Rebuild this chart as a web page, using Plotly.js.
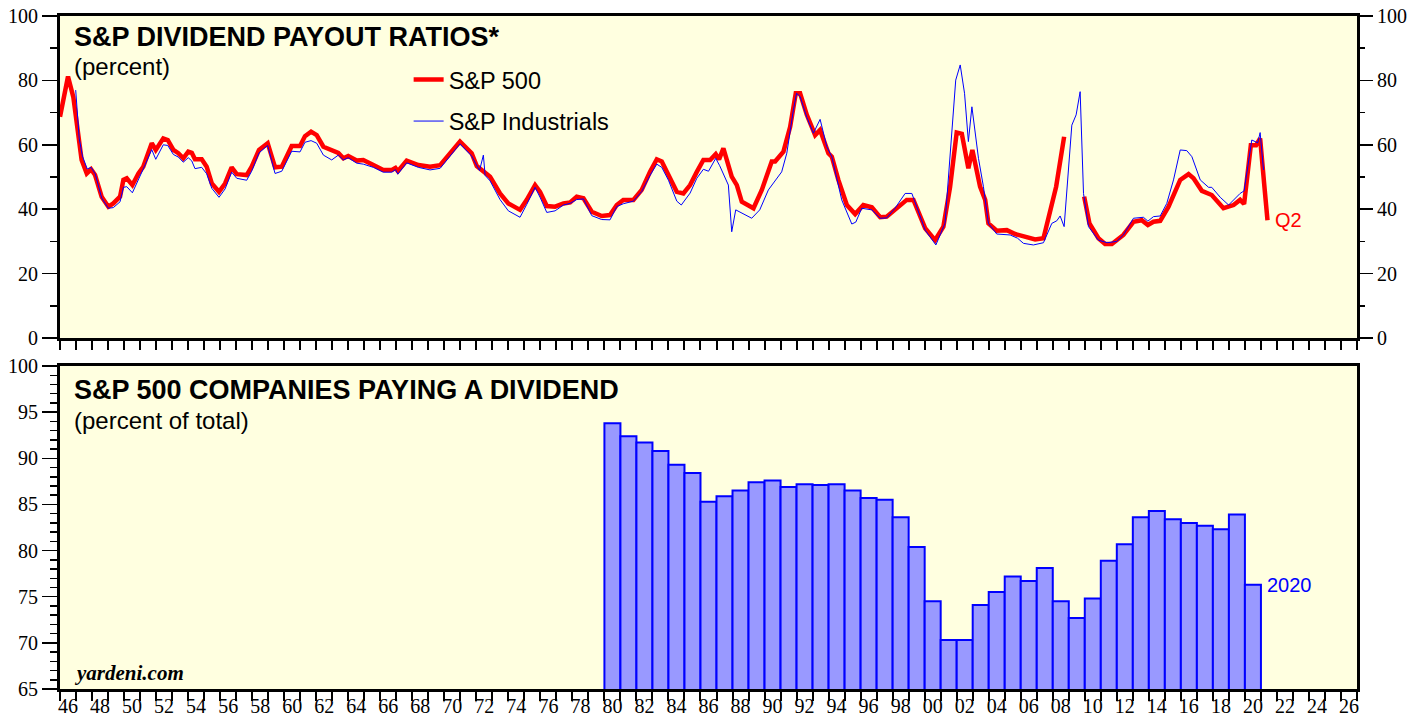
<!DOCTYPE html>
<html><head><meta charset="utf-8">
<script src="https://cdn.plot.ly/plotly-3.0.1.min.js"></script>
<style>html,body{margin:0;padding:0;background:#fff}#chart{width:1426px;height:719px}</style>
</head><body><div id="chart"></div><script>
// ---- Data ----
const sp500Years = [1946.0,1946.5,1946.83,1947.14,1947.35,1947.67,1947.94,1948.19,1948.6,1949.02,1949.33,1949.75,1949.96,1950.17,1950.52,1950.9,1951.2,1951.73,1951.98,1952.45,1952.73,1953.08,1953.39,1953.7,1954.01,1954.23,1954.43,1954.85,1955.16,1955.48,1955.93,1956.31,1956.72,1957.04,1957.66,1957.97,1958.43,1958.97,1959.43,1959.85,1960.47,1960.99,1961.3,1961.68,1962.03,1962.45,1962.97,1963.38,1963.7,1964.0,1964.53,1964.94,1965.57,1966.19,1966.72,1966.95,1967.1,1967.65,1968.38,1969.11,1969.74,1970.36,1970.98,1971.71,1972.03,1972.86,1973.48,1974.0,1974.73,1975.15,1975.67,1975.98,1976.4,1976.92,1977.44,1977.86,1978.27,1978.69,1979.21,1979.83,1980.35,1980.77,1981.18,1981.81,1982.33,1982.85,1983.27,1983.58,1984.0,1984.52,1984.93,1985.35,1985.77,1986.18,1986.6,1986.95,1987.16,1987.43,1987.95,1988.27,1988.58,1989.31,1989.83,1990.45,1990.66,1991.18,1991.6,1991.95,1992.22,1992.64,1993.16,1993.47,1993.99,1994.2,1994.61,1995.14,1995.66,1996.17,1996.7,1997.22,1997.63,1998.15,1998.88,1999.3,2000.03,2000.65,2001.17,2001.59,2002.0,2002.32,2002.73,2002.98,2003.46,2003.78,2003.98,2004.5,2005.13,2005.65,2006.17,2006.9,2007.42,2007.94,2008.21,2008.71,2009.3,2009.96,2010.29,2010.85,2011.27,2011.69,2012.0,2012.41,2013.04,2013.56,2013.94,2014.29,2014.71,2015.23,2015.96,2016.48,2016.79,2017.31,2017.93,2018.66,2019.29,2019.7,2019.95,2020.37,2020.7,2020.95,2021.2,2021.41];
const sp500Payout = [68.7,81.2,74.9,62.5,55.3,51.1,52.4,50.6,43.9,40.8,41.8,43.9,49.1,49.6,47.5,51.1,53.2,60.5,58.4,62.0,61.5,58.4,57.4,55.8,57.9,57.5,55.5,55.5,53.2,48.0,45.4,48.0,53.0,50.9,50.6,53.2,58.4,60.5,53.0,53.2,59.6,59.6,62.7,64.1,63.0,59.4,58.2,57.5,55.8,56.5,55.1,55.3,53.7,52.2,52.2,52.8,51.8,55.1,53.7,53.2,53.7,57.4,61.0,57.4,53.4,50.1,44.9,41.8,39.8,42.9,47.5,45.4,41.0,40.8,41.8,42.1,43.9,43.4,39.2,37.9,38.2,41.3,42.9,42.9,46.0,51.6,55.5,54.8,50.6,45.4,44.9,47.5,51.6,55.3,55.3,57.1,55.5,58.9,50.1,47.5,42.3,40.3,46.0,54.8,54.8,57.9,65.6,76.0,76.0,69.3,63.0,64.6,57.4,56.3,49.1,41.3,38.5,41.3,40.6,37.5,37.7,39.8,42.9,42.9,34.1,30.4,34.6,47.0,63.8,63.4,52.7,58.4,47.0,42.9,35.6,33.3,33.5,32.3,31.7,30.6,31.0,41.8,47.0,62.5,null,43.9,35.6,31.0,29.2,29.2,30.4,32.0,36.1,36.6,35.1,36.1,36.4,40.8,49.1,50.9,49.6,45.7,44.4,40.3,41.3,42.9,41.6,59.9,59.9,62.0,48.0,36.6];

const indYears = [1946.98,1947.2,1947.4,1947.7,1947.94,1948.2,1948.6,1949.02,1949.33,1949.75,1949.96,1950.17,1950.52,1950.9,1951.2,1951.73,1951.98,1952.45,1952.73,1953.08,1953.39,1953.7,1954.01,1954.23,1954.43,1954.85,1955.16,1955.48,1955.93,1956.31,1956.72,1957.04,1957.66,1957.97,1958.43,1958.97,1959.43,1959.85,1960.47,1960.99,1961.3,1961.68,1962.03,1962.45,1962.97,1963.38,1963.7,1964.0,1964.53,1964.94,1965.57,1966.19,1966.72,1966.95,1967.1,1967.65,1968.38,1969.11,1969.74,1970.36,1970.98,1971.71,1972.2,1972.44,1972.55,1972.86,1973.48,1974.0,1974.73,1975.15,1975.67,1976.0,1976.4,1976.92,1977.44,1977.86,1978.27,1978.69,1979.21,1979.83,1980.35,1980.77,1981.18,1981.81,1982.33,1982.85,1983.27,1983.58,1984.0,1984.52,1984.8,1985.35,1985.77,1986.18,1986.5,1986.95,1987.2,1987.74,1987.95,1988.2,1989.2,1989.7,1990.24,1991.07,1991.39,1991.8,1992.0,1992.22,1992.64,1993.05,1993.47,1993.89,1994.2,1994.82,1995.45,1995.7,1996.07,1996.7,1997.22,1997.63,1998.15,1998.78,1999.2,2000.03,2000.7,2001.27,2001.7,2001.94,2002.22,2002.49,2002.73,2002.95,2003.36,2003.67,2003.98,2004.5,2005.34,2005.8,2006.17,2006.79,2007.42,2007.94,2008.25,2008.46,2008.71,2009.19,2009.46,2009.71,2009.92,2010.23,2010.85,2011.4,2012.0,2012.41,2013.04,2013.66,2013.94,2014.29,2014.71,2015.12,2015.54,2015.96,2016.37,2016.69,2017.21,2017.73,2017.93,2018.46,2018.98,2019.7,2019.95,2020.43,2020.8,2020.95,2021.16];
const indPayout = [77.0,62.0,56.5,52.5,53.0,51.0,43.5,40.3,40.5,42.3,46.8,47.0,45.1,49.5,52.5,58.5,55.5,60.0,59.8,57.0,56.2,54.6,56.0,55.0,52.6,53.0,51.0,46.5,43.7,46.3,51.5,49.6,49.0,51.8,57.5,59.8,51.1,51.8,58.0,57.8,60.8,61.3,60.5,56.8,55.3,56.8,55.3,56.0,54.3,54.0,53.0,51.5,51.5,52.3,50.9,54.4,53.0,52.2,52.7,56.5,60.3,56.5,52.0,56.8,50.5,48.8,43.0,39.5,37.5,41.5,46.8,43.5,39.0,39.5,41.3,41.8,43.0,43.2,38.0,36.8,36.7,40.8,41.7,42.5,45.5,50.5,54.0,53.0,49.0,42.5,41.3,45.0,49.6,52.4,51.8,55.8,53.5,47.5,33.0,39.8,37.2,39.8,46.0,51.6,57.4,70.8,76.0,75.0,68.5,63.6,67.9,59.4,56.3,42.9,35.4,36.0,40.3,39.8,37.2,37.3,40.3,44.9,44.9,33.5,28.9,35.6,63.6,80.1,84.8,76.0,61.0,71.8,55.8,47.0,35.6,32.3,32.0,31.0,29.4,28.9,29.6,35.6,36.4,37.9,34.6,66.1,69.3,76.5,44.9,34.6,30.4,29.6,30.0,32.0,37.2,37.5,36.3,37.7,37.9,41.8,49.1,58.4,58.2,56.3,49.1,46.8,46.8,43.7,41.3,44.9,45.7,61.5,60.6,63.8,52.2];

const barYears = [1980,1981,1982,1983,1984,1985,1986,1987,1988,1989,1990,1991,1992,1993,1994,1995,1996,1997,1998,1999,2000,2001,2002,2003,2004,2005,2006,2007,2008,2009,2010,2011,2012,2013,2014,2015,2016,2017,2018,2019,2020];
const pctPaying = [93.8,92.4,91.7,90.8,89.3,88.4,85.3,85.9,86.5,87.4,87.6,86.9,87.2,87.1,87.2,86.5,85.7,85.5,83.6,80.4,74.5,70.3,70.3,74.1,75.5,77.2,76.7,78.1,74.5,72.7,74.8,78.9,80.7,83.6,84.3,83.4,83.0,82.7,82.3,83.9,76.3];

const yearTicks = [];
for (let y = 1946; y <= 2027; y++) yearTicks.push(y);
const labelYears = [];
for (let y = 1946; y <= 2026; y += 2) labelYears.push(y);
const labelText = labelYears.map(y => String(y % 100).padStart(2, '0'));
const topTicks = [0,20,40,60,80,100];
const botTicks = [65,70,75,80,85,90,95,100];

// ---- Styles ----
const serif = 'Liberation Serif, Times New Roman, serif';
const sans = 'Liberation Sans, Arial, sans-serif';
const bg = '#FFFFE0';

const xCommon = {
  range: [1946, 2027], showgrid: false, zeroline: false,
  showline: true, linewidth: 3, linecolor: '#000', mirror: true,
  tickmode: 'array', tickvals: labelYears.map(y => y + 0.5), ticktext: labelText,
  ticks: '', ticklabelstandoff: -3,
  minor: {tickmode: 'array', tickvals: yearTicks, ticks: 'outside', ticklen: 9, tickwidth: 2, tickcolor: '#000'},
  tickfont: {family: serif, size: 20, color: '#000'}
};
function yAxis(domain, range, ticks, minorD, side, overlay, anchor) {
  const a = {
    domain: domain, range: range, showgrid: false, zeroline: false,
    tickmode: 'array', tickvals: ticks, ticks: 'outside', ticklen: 15, tickwidth: 1.5, tickcolor: '#000',
    minor: {dtick: minorD, ticks: 'outside', ticklen: 7, tickwidth: 1.5, tickcolor: '#000'},
    tickfont: {family: serif, size: 20, color: '#000'}, side: side, anchor: anchor
  };
  if (overlay) { a.overlaying = overlay; a.showline = false; }
  else { a.showline = true; a.linewidth = 3; a.linecolor = '#000'; a.mirror = true; }
  return a;
}

const traces = [
  {x: sp500Years, y: sp500Payout, type: 'scatter', mode: 'lines', name: 'S&amp;P 500',
   line: {color: '#FF0000', width: 4.5}, connectgaps: false, xaxis: 'x', yaxis: 'y', legendgroup: 'a'},
  {x: indYears, y: indPayout, type: 'scatter', mode: 'lines', name: 'S&amp;P Industrials',
   line: {color: '#0000FF', width: 1}, xaxis: 'x', yaxis: 'y3', legendgroup: 'b'},
  {x: barYears.map(y => y + 0.5), y: pctPaying, type: 'bar', width: 1, showlegend: false,
   marker: {color: '#9999FF', line: {color: '#0000FF', width: 2}}, xaxis: 'x2', yaxis: 'y2'}
];
const xTop = Object.assign({}, xCommon, {anchor: 'y', showticklabels: false, domain: [0, 1]});
const xBot = Object.assign({}, xCommon, {anchor: 'y2', domain: [0, 1]});

const layout = {
  width: 1426, height: 719,
  margin: {l: 60, r: 69, t: 16, b: 30},
  paper_bgcolor: '#fff', plot_bgcolor: bg,
  showlegend: true,
  legend: {x: 0.2688, y: 0.938, xanchor: 'left', yanchor: 'top', bgcolor: 'rgba(0,0,0,0)',
           font: {family: sans, size: 23.5, color: '#000'}, tracegroupgap: 8, traceorder: 'grouped'},
  xaxis: xTop, xaxis2: xBot,
  yaxis: yAxis([0.5215, 1], [0, 100], topTicks, 10, 'left', null, 'x'),
  yaxis3: yAxis([0.5215, 1], [0, 100], topTicks, 10, 'right', 'y', 'x'),
  yaxis2: yAxis([0, 0.4799], [65, 100], botTicks, 1, 'left', null, 'x2'),
  yaxis4: yAxis([0, 0.4799], [65, 100], botTicks, 1, 'right', 'y2', 'x2'),
  bargap: 0,
  annotations: [
    {text: '<b>S&amp;P DIVIDEND PAYOUT RATIOS*</b>', xref: 'paper', yref: 'paper', x: 0.0093, y: 0.9688,
     xanchor: 'left', yanchor: 'middle', showarrow: false, font: {family: sans, size: 27, color: '#000'}},
    {text: '(percent)', xref: 'paper', yref: 'paper', x: 0.0093, y: 0.9257,
     xanchor: 'left', yanchor: 'middle', showarrow: false, font: {family: sans, size: 24, color: '#000'}},
    {text: '<b>S&amp;P 500 COMPANIES PAYING A DIVIDEND</b>', xref: 'paper', yref: 'paper', x: 0.0093, y: 0.4443,
     xanchor: 'left', yanchor: 'middle', showarrow: false, font: {family: sans, size: 27, color: '#000'}},
    {text: '(percent of total)', xref: 'paper', yref: 'paper', x: 0.0093, y: 0.3997,
     xanchor: 'left', yanchor: 'middle', showarrow: false, font: {family: sans, size: 24, color: '#000'}},
    {text: '<b><i>yardeni.com</i></b>', xref: 'paper', yref: 'paper', x: 0.0093, y: 0.0238,
     xanchor: 'left', yanchor: 'middle', showarrow: false, font: {family: serif, size: 21, color: '#000'}},
    {text: String(barYears[barYears.length - 1]), xref: 'x2', yref: 'y2',
     x: barYears[barYears.length - 1] + 1, y: pctPaying[pctPaying.length - 1],
     xanchor: 'left', yanchor: 'middle', xshift: 4, showarrow: false, font: {family: sans, size: 20, color: '#0000FF'}},
    {text: 'Q2', xref: 'x', yref: 'y', x: sp500Years[sp500Years.length - 1], y: sp500Payout[sp500Payout.length - 1],
     xanchor: 'left', yanchor: 'middle', xshift: 6, showarrow: false, font: {family: sans, size: 20, color: '#FF0000'}}
  ]
};
Plotly.newPlot('chart', traces, layout, {staticPlot: true, displayModeBar: false});
</script></body></html>
